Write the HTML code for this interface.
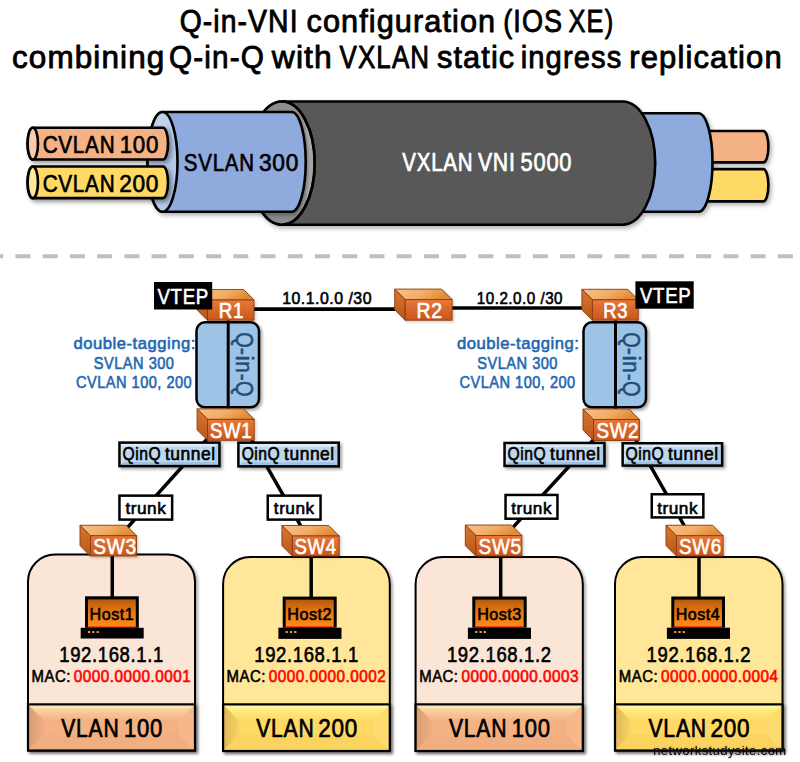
<!DOCTYPE html>
<html><head><meta charset="utf-8"><style>
html,body{margin:0;padding:0;background:#fff;}
svg{display:block;}
text{font-family:"Liberation Sans", sans-serif;}
</style></head><body>
<svg width="800" height="762" viewBox="0 0 800 762">
<defs>
<filter id="sh1" x="-20%" y="-20%" width="150%" height="150%"><feDropShadow dx="2" dy="2" stdDeviation="1.8" flood-color="#000" flood-opacity="0.35"/></filter>
<filter id="sh3" x="-20%" y="-20%" width="150%" height="150%"><feDropShadow dx="1.5" dy="1.5" stdDeviation="1.2" flood-color="#000" flood-opacity="0.2"/></filter>
<filter id="glow" x="-10%" y="-50%" width="120%" height="200%"><feGaussianBlur in="SourceAlpha" stdDeviation="1.2" result="b"/><feFlood flood-color="#333" flood-opacity="0.45"/><feComposite in2="b" operator="in" result="g"/><feMerge><feMergeNode in="g"/><feMergeNode in="SourceGraphic"/></feMerge></filter>
<filter id="sh4" x="-20%" y="-20%" width="150%" height="150%"><feDropShadow dx="2.5" dy="2.5" stdDeviation="2" flood-color="#000" flood-opacity="0.4"/></filter>
<filter id="sh2" x="-20%" y="-20%" width="150%" height="150%"><feDropShadow dx="2" dy="2.5" stdDeviation="2" flood-color="#000" flood-opacity="0.3"/></filter>
<linearGradient id="gTop" x1="0" y1="0" x2="1" y2="0.3"><stop offset="0" stop-color="#F7C08A"/><stop offset="0.55" stop-color="#F2AE68"/><stop offset="1" stop-color="#E08A34"/></linearGradient>
<linearGradient id="gLeft" x1="0" y1="0" x2="0" y2="1"><stop offset="0" stop-color="#D8782E"/><stop offset="1" stop-color="#B9561A"/></linearGradient>
<linearGradient id="gFront" x1="0" y1="0" x2="0" y2="1"><stop offset="0" stop-color="#E8783A"/><stop offset="1" stop-color="#C9561C"/></linearGradient>
<linearGradient id="gScr" x1="0" y1="0" x2="0" y2="1"><stop offset="0" stop-color="#B85A0C"/><stop offset="0.45" stop-color="#E87810"/><stop offset="1" stop-color="#FF8A18"/></linearGradient>
<linearGradient id="gBTo" x1="0" y1="0" x2="0" y2="1"><stop offset="0" stop-color="#FFF6D0"/><stop offset="0.35" stop-color="#FAD0A0"/><stop offset="1" stop-color="#F4B183"/></linearGradient>
<linearGradient id="gBTy" x1="0" y1="0" x2="0" y2="1"><stop offset="0" stop-color="#FFFFA8"/><stop offset="0.35" stop-color="#FFEC80"/><stop offset="1" stop-color="#FFD966"/></linearGradient>
<linearGradient id="gBLo" x1="0" y1="0" x2="1" y2="0"><stop offset="0" stop-color="#D89C74"/><stop offset="1" stop-color="#EDAE82"/></linearGradient>
<linearGradient id="gBLy" x1="0" y1="0" x2="1" y2="0"><stop offset="0" stop-color="#DEB858"/><stop offset="1" stop-color="#F8D464"/></linearGradient>
<linearGradient id="gFace" x1="0" y1="0" x2="1" y2="0"><stop offset="0" stop-color="#8C8C8C"/><stop offset="0.7" stop-color="#8E8E8E"/><stop offset="0.92" stop-color="#B5B5B5"/><stop offset="1" stop-color="#9A9A9A"/></linearGradient>
<linearGradient id="gSF" x1="0" y1="0" x2="1" y2="1"><stop offset="0" stop-color="#C9D6EE"/><stop offset="1" stop-color="#AFC2E6"/></linearGradient>
</defs>
<rect width="800" height="762" fill="#fff"/>
<text transform="translate(179.67,32.30) scale(0.9103,1)" font-size="31.14" fill="#000" stroke="#000" stroke-width="0.87" stroke-linejoin="round" letter-spacing="1.197" >Q-in-VNI</text>
<text transform="translate(306.54,32.30) scale(0.9847,1)" font-size="31.14" fill="#000" stroke="#000" stroke-width="0.87" stroke-linejoin="round" letter-spacing="1.107" >configuration</text>
<text transform="translate(503.23,32.30) scale(0.8690,1)" font-size="31.14" fill="#000" stroke="#000" stroke-width="0.87" stroke-linejoin="round" letter-spacing="1.254" >(IOS</text>
<text transform="translate(568.60,32.30) scale(0.8154,1)" font-size="31.14" fill="#000" stroke="#000" stroke-width="0.87" stroke-linejoin="round" letter-spacing="1.337" >XE)</text>
<text transform="translate(12.02,67.80) scale(0.9871,1)" font-size="31.86" fill="#000" stroke="#000" stroke-width="0.89" stroke-linejoin="round" letter-spacing="1.130" >combining</text>
<text transform="translate(169.11,67.80) scale(0.9324,1)" font-size="31.86" fill="#000" stroke="#000" stroke-width="0.89" stroke-linejoin="round" letter-spacing="1.196" >Q-in-Q</text>
<text transform="translate(271.75,67.80) scale(1.0008,1)" font-size="31.86" fill="#000" stroke="#000" stroke-width="0.89" stroke-linejoin="round" letter-spacing="1.114" >with</text>
<text transform="translate(339.50,67.80) scale(0.8151,1)" font-size="31.86" fill="#000" stroke="#000" stroke-width="0.89" stroke-linejoin="round" letter-spacing="1.368" >VXLAN</text>
<text transform="translate(437.02,67.80) scale(0.9634,1)" font-size="31.86" fill="#000" stroke="#000" stroke-width="0.89" stroke-linejoin="round" letter-spacing="1.157" >static</text>
<text transform="translate(520.68,67.80) scale(0.9158,1)" font-size="31.86" fill="#000" stroke="#000" stroke-width="0.89" stroke-linejoin="round" letter-spacing="1.218" >ingress</text>
<text transform="translate(629.31,67.80) scale(0.9729,1)" font-size="31.86" fill="#000" stroke="#000" stroke-width="0.89" stroke-linejoin="round" letter-spacing="1.146" >replication</text>
<g filter="url(#sh2)">
<path d="M700,131.0 L763.4,131.0 A5,15.700000000000003 0 0 1 763.4,162.4 L700,162.4 A5,15.700000000000003 0 0 1 700,131.0 Z" fill="#F4B183" stroke="#000" stroke-width="2.6" stroke-linejoin="round"/>
<path d="M700,169.1 L763.4,169.1 A5,16.150000000000006 0 0 1 763.4,201.4 L700,201.4 A5,16.150000000000006 0 0 1 700,169.1 Z" fill="#FFD966" stroke="#000" stroke-width="2.6" stroke-linejoin="round"/>
<path d="M600,113.3 L698.5,113.3 A14,49.199999999999996 0 0 1 698.5,211.7 L600,211.7 A14,49.199999999999996 0 0 1 600,113.3 Z" fill="#8FAADC" stroke="#000" stroke-width="2.6" stroke-linejoin="round"/>
<path d="M282,101.5 L622.5,101.5 A32.7,61.599999999999994 0 0 1 622.5,224.7 L282,224.7 A32.7,61.599999999999994 0 0 1 282,101.5 Z" fill="#595959" stroke="#000" stroke-width="2.6" stroke-linejoin="round"/><ellipse cx="282" cy="163.1" rx="32.7" ry="61.599999999999994" fill="url(#gFace)" stroke="#000" stroke-width="2.6"/>
</g>
<path d="M282,101.5 A32.7,61.6 0 0 1 282,224.7" fill="none" stroke="#000" stroke-width="2.6"/>
<g filter="url(#sh2)">
<path d="M162.5,112.0 L291.7,112.0 A14,49.900000000000006 0 0 1 291.7,211.8 L162.5,211.8 A15,49.900000000000006 0 0 1 162.5,112.0 Z" fill="#8FAADC" stroke="#000" stroke-width="2.6" stroke-linejoin="round"/><ellipse cx="162.5" cy="161.9" rx="15" ry="49.900000000000006" fill="url(#gSF)" stroke="#000" stroke-width="2.6"/>
</g><g filter="url(#sh4)">
<path d="M32.8,127.8 L163.0,127.8 A5,15.850000000000001 0 0 1 163.0,159.5 L32.8,159.5 A5.2,15.850000000000001 0 0 1 32.8,127.8 Z" fill="#F4B183" stroke="#000" stroke-width="2.6" stroke-linejoin="round"/><ellipse cx="32.8" cy="143.65" rx="5.2" ry="15.850000000000001" fill="#F8CBAD" stroke="#000" stroke-width="2.6"/>
<path d="M32.8,166.5 L163.0,166.5 A5,15.799999999999997 0 0 1 163.0,198.1 L32.8,198.1 A5.2,15.799999999999997 0 0 1 32.8,166.5 Z" fill="#FFD966" stroke="#000" stroke-width="2.6" stroke-linejoin="round"/><ellipse cx="32.8" cy="182.3" rx="5.2" ry="15.799999999999997" fill="#FFE699" stroke="#000" stroke-width="2.6"/>
</g>
<text transform="translate(42.63,153.00) scale(0.8526,1)" font-size="24.29" fill="#000" stroke="#000" stroke-width="0.68" stroke-linejoin="round" letter-spacing="0.855" >CVLAN</text>
<text transform="translate(119.70,153.00) scale(0.9205,1)" font-size="24.29" fill="#000" stroke="#000" stroke-width="0.68" stroke-linejoin="round" letter-spacing="0.792" >100</text>
<text transform="translate(42.63,192.00) scale(0.8526,1)" font-size="24.29" fill="#000" stroke="#000" stroke-width="0.68" stroke-linejoin="round" letter-spacing="0.855" >CVLAN</text>
<text transform="translate(119.14,192.00) scale(0.9347,1)" font-size="24.29" fill="#000" stroke="#000" stroke-width="0.68" stroke-linejoin="round" letter-spacing="0.780" >200</text>
<text transform="translate(183.86,170.50) scale(0.8543,1)" font-size="24.00" fill="#000" stroke="#000" stroke-width="0.67" stroke-linejoin="round" letter-spacing="0.843" >SVLAN</text>
<text transform="translate(258.99,170.50) scale(0.9474,1)" font-size="24.00" fill="#000" stroke="#000" stroke-width="0.67" stroke-linejoin="round" letter-spacing="0.760" >300</text>
<text transform="translate(402.30,170.60) scale(0.7921,1)" font-size="25.86" fill="#fff" stroke="#fff" stroke-width="0.72" stroke-linejoin="round" letter-spacing="0.979" >VXLAN</text>
<text transform="translate(477.90,170.60) scale(0.8205,1)" font-size="25.86" fill="#fff" stroke="#fff" stroke-width="0.72" stroke-linejoin="round" letter-spacing="0.945" >VNI</text>
<text transform="translate(520.52,170.60) scale(0.8467,1)" font-size="25.86" fill="#fff" stroke="#fff" stroke-width="0.72" stroke-linejoin="round" letter-spacing="0.916" >5000</text>
<line x1="-11.78" y1="256.2" x2="810" y2="256.2" stroke="#BFBFBF" stroke-width="4" stroke-dasharray="15 12.23"/>
<path d="M28,750.5 L28,581.6 A27,27 0 0 1 55,554.6 L168,554.6 A27,27 0 0 1 195,581.6 L195,750.5 Z" fill="#FBE5D6" stroke="#000" stroke-width="2.0" filter="url(#sh1)"/>
<g filter="url(#sh1)">
<rect x="28" y="704.4" width="167" height="46.10000000000002" fill="#F4B183"/>
<polygon points="28,704.4 44,720.4 44,734.5 28,750.5" fill="url(#gBLo)"/>
<polygon points="195,704.4 179,720.4 179,734.5 195,750.5" fill="#F6B88A"/>
<polygon points="28,750.5 44,734.5 179,734.5 195,750.5" fill="#F1AE80"/>
<polygon points="28,704.4 44,720.4 179,720.4 195,704.4" fill="url(#gBTo)"/>
<rect x="28" y="704.4" width="167" height="46.10000000000002" fill="none" stroke="#000" stroke-width="2.2"/>
</g>
<path d="M223.1,751 L223.1,584 A27,27 0 0 1 250.1,557 L362.8,557 A27,27 0 0 1 389.8,584 L389.8,751 Z" fill="#FFE699" stroke="#000" stroke-width="2.0" filter="url(#sh1)"/>
<g filter="url(#sh1)">
<rect x="223.1" y="704.4" width="166.70000000000002" height="46.60000000000002" fill="#FFD966"/>
<polygon points="223.1,704.4 239.1,720.4 239.1,735 223.1,751" fill="url(#gBLy)"/>
<polygon points="389.8,704.4 373.8,720.4 373.8,735 389.8,751" fill="#FFDC70"/>
<polygon points="223.1,751 239.1,735 373.8,735 389.8,751" fill="#FBD460"/>
<polygon points="223.1,704.4 239.1,720.4 373.8,720.4 389.8,704.4" fill="url(#gBTy)"/>
<rect x="223.1" y="704.4" width="166.70000000000002" height="46.60000000000002" fill="none" stroke="#000" stroke-width="2.2"/>
</g>
<path d="M415.6,751 L415.6,584 A27,27 0 0 1 442.6,557 L555.8,557 A27,27 0 0 1 582.8,584 L582.8,751 Z" fill="#FBE5D6" stroke="#000" stroke-width="2.0" filter="url(#sh1)"/>
<g filter="url(#sh1)">
<rect x="415.6" y="704.4" width="167.19999999999993" height="46.60000000000002" fill="#F4B183"/>
<polygon points="415.6,704.4 431.6,720.4 431.6,735 415.6,751" fill="url(#gBLo)"/>
<polygon points="582.8,704.4 566.8,720.4 566.8,735 582.8,751" fill="#F6B88A"/>
<polygon points="415.6,751 431.6,735 566.8,735 582.8,751" fill="#F1AE80"/>
<polygon points="415.6,704.4 431.6,720.4 566.8,720.4 582.8,704.4" fill="url(#gBTo)"/>
<rect x="415.6" y="704.4" width="167.19999999999993" height="46.60000000000002" fill="none" stroke="#000" stroke-width="2.2"/>
</g>
<path d="M615,750.5 L615,584 A27,27 0 0 1 642,557 L755.5,557 A27,27 0 0 1 782.5,584 L782.5,750.5 Z" fill="#FFE699" stroke="#000" stroke-width="2.0" filter="url(#sh1)"/>
<g filter="url(#sh1)">
<rect x="615" y="704.4" width="167.5" height="46.10000000000002" fill="#FFD966"/>
<polygon points="615,704.4 631,720.4 631,734.5 615,750.5" fill="url(#gBLy)"/>
<polygon points="782.5,704.4 766.5,720.4 766.5,734.5 782.5,750.5" fill="#FFDC70"/>
<polygon points="615,750.5 631,734.5 766.5,734.5 782.5,750.5" fill="#FBD460"/>
<polygon points="615,704.4 631,720.4 766.5,720.4 782.5,704.4" fill="url(#gBTy)"/>
<rect x="615" y="704.4" width="167.5" height="46.10000000000002" fill="none" stroke="#000" stroke-width="2.2"/>
</g>
<line x1="250" y1="309.2" x2="420" y2="309.2" stroke="#000" stroke-width="3.7"/>
<line x1="420" y1="308.0" x2="596" y2="308.0" stroke="#000" stroke-width="3.5"/>
<line x1="215.24" y1="430" x2="116.24" y2="540" stroke="#000" stroke-width="3.5"/>
<line x1="246.07" y1="430" x2="308.77" y2="540" stroke="#000" stroke-width="3.5"/>
<line x1="602.55" y1="430" x2="501.35" y2="540" stroke="#000" stroke-width="3.5"/>
<line x1="630.15" y1="430" x2="692.30" y2="540" stroke="#000" stroke-width="3.5"/>
<line x1="112.25" y1="550" x2="112.25" y2="600" stroke="#000" stroke-width="3.5"/>
<line x1="311.2" y1="550" x2="311.2" y2="600" stroke="#000" stroke-width="3.5"/>
<line x1="500.7" y1="550" x2="500.7" y2="600" stroke="#000" stroke-width="3.5"/>
<line x1="699" y1="550" x2="699" y2="600" stroke="#000" stroke-width="3.5"/>
<text transform="translate(282.21,304.20) scale(0.9500,1)" font-size="16.71" fill="#000" stroke="#000" stroke-width="0.62" stroke-linejoin="round" letter-spacing="0.528" >10.1.0.0 /30</text>
<text transform="translate(476.75,304.20) scale(0.9097,1)" font-size="16.71" fill="#000" stroke="#000" stroke-width="0.62" stroke-linejoin="round" letter-spacing="0.551" >10.2.0.0 /30</text>
<rect x="196.5" y="322.3" width="62.5" height="85" rx="8.5" fill="#9DC3E6" stroke="#000" stroke-width="2.5" filter="url(#sh1)"/>
<line x1="228.2" y1="318" x2="228.2" y2="422" stroke="#000" stroke-width="3"/>
<rect x="583.5" y="322.3" width="62.5" height="85" rx="8.5" fill="#9DC3E6" stroke="#000" stroke-width="2.5" filter="url(#sh1)"/>
<line x1="615.5" y1="318" x2="615.5" y2="422" stroke="#000" stroke-width="3"/>
<g transform="translate(236,364.1) rotate(90)"><text transform="translate(-31.83,0.00) scale(0.8303,1)" font-size="24.00" fill="#1F4E79" stroke="#1F4E79" stroke-width="0.55" stroke-linejoin="round" letter-spacing="0.867" >Q</text>
<text transform="translate(-16.47,0.00) scale(0.8941,1)" font-size="24.00" fill="#1F4E79" stroke="#1F4E79" stroke-width="0.55" stroke-linejoin="round" letter-spacing="0.805" >-</text>
<text transform="translate(-8.90,0.00) scale(1.0667,1)" font-size="24.00" fill="#1F4E79" stroke="#1F4E79" stroke-width="0.55" stroke-linejoin="round" letter-spacing="0.675" >i</text>
<text transform="translate(-2.89,0.00) scale(0.8571,1)" font-size="24.00" fill="#1F4E79" stroke="#1F4E79" stroke-width="0.55" stroke-linejoin="round" letter-spacing="0.840" >n</text>
<text transform="translate(9.55,0.00) scale(0.8627,1)" font-size="24.00" fill="#1F4E79" stroke="#1F4E79" stroke-width="0.55" stroke-linejoin="round" letter-spacing="0.835" >-</text>
<text transform="translate(16.87,0.00) scale(0.8303,1)" font-size="24.00" fill="#1F4E79" stroke="#1F4E79" stroke-width="0.55" stroke-linejoin="round" letter-spacing="0.867" >Q</text></g>
<g transform="translate(623.2,364.1) rotate(90)"><text transform="translate(-31.83,0.00) scale(0.8303,1)" font-size="24.00" fill="#1F4E79" stroke="#1F4E79" stroke-width="0.55" stroke-linejoin="round" letter-spacing="0.867" >Q</text>
<text transform="translate(-16.47,0.00) scale(0.8941,1)" font-size="24.00" fill="#1F4E79" stroke="#1F4E79" stroke-width="0.55" stroke-linejoin="round" letter-spacing="0.805" >-</text>
<text transform="translate(-8.90,0.00) scale(1.0667,1)" font-size="24.00" fill="#1F4E79" stroke="#1F4E79" stroke-width="0.55" stroke-linejoin="round" letter-spacing="0.675" >i</text>
<text transform="translate(-2.89,0.00) scale(0.8571,1)" font-size="24.00" fill="#1F4E79" stroke="#1F4E79" stroke-width="0.55" stroke-linejoin="round" letter-spacing="0.840" >n</text>
<text transform="translate(9.55,0.00) scale(0.8627,1)" font-size="24.00" fill="#1F4E79" stroke="#1F4E79" stroke-width="0.55" stroke-linejoin="round" letter-spacing="0.835" >-</text>
<text transform="translate(16.87,0.00) scale(0.8303,1)" font-size="24.00" fill="#1F4E79" stroke="#1F4E79" stroke-width="0.55" stroke-linejoin="round" letter-spacing="0.867" >Q</text></g>
<g filter="url(#sh3)">
<polygon points="197.0,289.5 243.5,289.5 254,300 207.5,300" fill="url(#gTop)" stroke="#8a3c10" stroke-width="0.9" stroke-linejoin="round"/>
<polygon points="197.0,289.5 207.5,300 207.5,320.2 197.0,309.7" fill="url(#gLeft)" stroke="#8a3c10" stroke-width="0.9" stroke-linejoin="round"/>
<rect x="207.5" y="300" width="46.5" height="20.19999999999999" fill="url(#gFront)" stroke="#8a3c10" stroke-width="0.9"/>
</g>
<g filter="url(#sh3)">
<polygon points="394.7,289.1 441.6,289.1 452.1,299.6 405.2,299.6" fill="url(#gTop)" stroke="#8a3c10" stroke-width="0.9" stroke-linejoin="round"/>
<polygon points="394.7,289.1 405.2,299.6 405.2,320.2 394.7,309.7" fill="url(#gLeft)" stroke="#8a3c10" stroke-width="0.9" stroke-linejoin="round"/>
<rect x="405.2" y="299.6" width="46.900000000000034" height="20.599999999999966" fill="url(#gFront)" stroke="#8a3c10" stroke-width="0.9"/>
</g>
<g filter="url(#sh3)">
<polygon points="581.9,289.3 627.7,289.3 638.2,299.8 592.4,299.8" fill="url(#gTop)" stroke="#8a3c10" stroke-width="0.9" stroke-linejoin="round"/>
<polygon points="581.9,289.3 592.4,299.8 592.4,320.2 581.9,309.7" fill="url(#gLeft)" stroke="#8a3c10" stroke-width="0.9" stroke-linejoin="round"/>
<rect x="592.4" y="299.8" width="45.80000000000007" height="20.399999999999977" fill="url(#gFront)" stroke="#8a3c10" stroke-width="0.9"/>
</g>
<rect x="154" y="282" width="58.2" height="27.5" fill="#000"/>
<text transform="translate(157.50,304.00) scale(0.8437,1)" font-size="22.14" fill="#fff" stroke="#fff" stroke-width="0.62" stroke-linejoin="round" letter-spacing="0.787" >VTEP</text>
<rect x="635.4" y="281.3" width="58.3" height="27.4" fill="#000"/>
<text transform="translate(640.00,303.00) scale(0.8270,1)" font-size="22.57" fill="#fff" stroke="#fff" stroke-width="0.63" stroke-linejoin="round" letter-spacing="0.819" >VTEP</text>
<text transform="translate(218.78,318.40) scale(0.8736,1)" font-size="21.57" fill="#fff" stroke="#fff" stroke-width="0.62" stroke-linejoin="round" letter-spacing="0.741" >R1</text>
<text transform="translate(416.48,318.40) scale(0.8854,1)" font-size="22.00" fill="#fff" stroke="#fff" stroke-width="0.62" stroke-linejoin="round" letter-spacing="0.745" >R2</text>
<text transform="translate(603.22,318.20) scale(0.8345,1)" font-size="22.00" fill="#fff" stroke="#fff" stroke-width="0.62" stroke-linejoin="round" letter-spacing="0.791" >R3</text>
<text transform="translate(73.53,348.80) scale(1.0118,1)" font-size="16.49" fill="#1F68B2" stroke="#1F68B2" stroke-width="0.60" stroke-linejoin="round" letter-spacing="0.489" >double-tagging:</text>
<text transform="translate(93.84,368.60) scale(0.9050,1)" font-size="16.14" fill="#1F68B2" stroke="#1F68B2" stroke-width="0.60" stroke-linejoin="round" letter-spacing="0.535" >SVLAN 300</text>
<text transform="translate(75.92,387.60) scale(0.8959,1)" font-size="16.29" fill="#1F68B2" stroke="#1F68B2" stroke-width="0.60" stroke-linejoin="round" letter-spacing="0.545" >CVLAN 100, 200</text>
<text transform="translate(457.03,348.80) scale(1.0118,1)" font-size="16.49" fill="#1F68B2" stroke="#1F68B2" stroke-width="0.60" stroke-linejoin="round" letter-spacing="0.489" >double-tagging:</text>
<text transform="translate(477.34,368.60) scale(0.9050,1)" font-size="16.14" fill="#1F68B2" stroke="#1F68B2" stroke-width="0.60" stroke-linejoin="round" letter-spacing="0.535" >SVLAN 300</text>
<text transform="translate(459.42,387.60) scale(0.8959,1)" font-size="16.29" fill="#1F68B2" stroke="#1F68B2" stroke-width="0.60" stroke-linejoin="round" letter-spacing="0.545" >CVLAN 100, 200</text>
<g filter="url(#sh3)">
<polygon points="197.1,408.85 243.7,408.85 254.2,419.35 207.6,419.35" fill="url(#gTop)" stroke="#8a3c10" stroke-width="0.9" stroke-linejoin="round"/>
<polygon points="197.1,408.85 207.6,419.35 207.6,440.3 197.1,429.8" fill="url(#gLeft)" stroke="#8a3c10" stroke-width="0.9" stroke-linejoin="round"/>
<rect x="207.6" y="419.35" width="46.599999999999994" height="20.94999999999999" fill="url(#gFront)" stroke="#8a3c10" stroke-width="0.9"/>
</g>
<text transform="translate(210.02,438.30) scale(0.8535,1)" font-size="21.86" fill="#fff" stroke="#fff" stroke-width="0.62" stroke-linejoin="round" letter-spacing="0.768" >SW1</text>
<g filter="url(#sh3)">
<polygon points="583.0,409.0 628.9,409.0 639.4,419.5 593.5,419.5" fill="url(#gTop)" stroke="#8a3c10" stroke-width="0.9" stroke-linejoin="round"/>
<polygon points="583.0,409.0 593.5,419.5 593.5,440.5 583.0,430.0" fill="url(#gLeft)" stroke="#8a3c10" stroke-width="0.9" stroke-linejoin="round"/>
<rect x="593.5" y="419.5" width="45.89999999999998" height="21.0" fill="url(#gFront)" stroke="#8a3c10" stroke-width="0.9"/>
</g>
<text transform="translate(596.41,438.40) scale(0.8396,1)" font-size="22.43" fill="#fff" stroke="#fff" stroke-width="0.63" stroke-linejoin="round" letter-spacing="0.801" >SW2</text>
<g filter="url(#sh3)">
<polygon points="80.0,525.25 126.0,525.25 136.5,535.75 90.5,535.75" fill="url(#gTop)" stroke="#8a3c10" stroke-width="0.9" stroke-linejoin="round"/>
<polygon points="80.0,525.25 90.5,535.75 90.5,556 80.0,545.5" fill="url(#gLeft)" stroke="#8a3c10" stroke-width="0.9" stroke-linejoin="round"/>
<rect x="90.5" y="535.75" width="46.0" height="20.25" fill="url(#gFront)" stroke="#8a3c10" stroke-width="0.9"/>
</g>
<text transform="translate(93.20,553.70) scale(0.8680,1)" font-size="22.14" fill="#fff" stroke="#fff" stroke-width="0.62" stroke-linejoin="round" letter-spacing="0.765" >SW3</text>
<g filter="url(#sh3)">
<polygon points="281.9,525.5 328.7,525.5 339.2,536 292.4,536" fill="url(#gTop)" stroke="#8a3c10" stroke-width="0.9" stroke-linejoin="round"/>
<polygon points="281.9,525.5 292.4,536 292.4,556 281.9,545.5" fill="url(#gLeft)" stroke="#8a3c10" stroke-width="0.9" stroke-linejoin="round"/>
<rect x="292.4" y="536" width="46.80000000000001" height="20" fill="url(#gFront)" stroke="#8a3c10" stroke-width="0.9"/>
</g>
<text transform="translate(294.52,553.70) scale(0.8423,1)" font-size="22.14" fill="#fff" stroke="#fff" stroke-width="0.62" stroke-linejoin="round" letter-spacing="0.789" >SW4</text>
<g filter="url(#sh3)">
<polygon points="465.3,525.0 511.4,525.0 521.9,535.5 475.8,535.5" fill="url(#gTop)" stroke="#8a3c10" stroke-width="0.9" stroke-linejoin="round"/>
<polygon points="465.3,525.0 475.8,535.5 475.8,556 465.3,545.5" fill="url(#gLeft)" stroke="#8a3c10" stroke-width="0.9" stroke-linejoin="round"/>
<rect x="475.8" y="535.5" width="46.099999999999966" height="20.5" fill="url(#gFront)" stroke="#8a3c10" stroke-width="0.9"/>
</g>
<text transform="translate(478.61,553.70) scale(0.8594,1)" font-size="22.14" fill="#fff" stroke="#fff" stroke-width="0.62" stroke-linejoin="round" letter-spacing="0.773" >SW5</text>
<g filter="url(#sh3)">
<polygon points="666.0,525.25 712.6,525.25 723.1,535.75 676.5,535.75" fill="url(#gTop)" stroke="#8a3c10" stroke-width="0.9" stroke-linejoin="round"/>
<polygon points="666.0,525.25 676.5,535.75 676.5,556 666.0,545.5" fill="url(#gLeft)" stroke="#8a3c10" stroke-width="0.9" stroke-linejoin="round"/>
<rect x="676.5" y="535.75" width="46.60000000000002" height="20.25" fill="url(#gFront)" stroke="#8a3c10" stroke-width="0.9"/>
</g>
<text transform="translate(679.11,553.70) scale(0.8486,1)" font-size="22.14" fill="#fff" stroke="#fff" stroke-width="0.62" stroke-linejoin="round" letter-spacing="0.783" >SW6</text>
<g filter="url(#sh1)">
<rect x="119.45" y="442.6" width="99.99999999999999" height="23.5" fill="#BDD7EE"/>
<polygon points="119.45,442.6 219.45,442.6 215.45,446.6 123.45,446.6" fill="#DEEBF7"/>
<polygon points="119.45,442.6 123.45,446.6 123.45,462.1 119.45,466.1" fill="#DEEBF7" opacity="0.6"/>
<polygon points="119.45,466.1 219.45,466.1 215.45,462.1 123.45,462.1" fill="#9DC3E6"/>
<polygon points="219.45,442.6 219.45,466.1 215.45,462.1 215.45,446.6" fill="#9DC3E6" opacity="0.6"/>
<rect x="119.45" y="442.6" width="99.99999999999999" height="23.5" fill="none" stroke="#000" stroke-width="2.5"/>
</g>
<text transform="translate(122.52,460.00) scale(0.8845,1)" font-size="17.71" fill="#000" stroke="#000" stroke-width="0.62" stroke-linejoin="round" letter-spacing="0.601" >QinQ</text>
<text transform="translate(165.00,460.00) scale(0.9840,1)" font-size="17.71" fill="#000" stroke="#000" stroke-width="0.62" stroke-linejoin="round" letter-spacing="0.540" >tunnel</text>
<g filter="url(#sh1)">
<rect x="238.4" y="442.65" width="100.35" height="23.700000000000045" fill="#BDD7EE"/>
<polygon points="238.4,442.65 338.75,442.65 334.75,446.65 242.4,446.65" fill="#DEEBF7"/>
<polygon points="238.4,442.65 242.4,446.65 242.4,462.35 238.4,466.35" fill="#DEEBF7" opacity="0.6"/>
<polygon points="238.4,466.35 338.75,466.35 334.75,462.35 242.4,462.35" fill="#9DC3E6"/>
<polygon points="338.75,442.65 338.75,466.35 334.75,462.35 334.75,446.65" fill="#9DC3E6" opacity="0.6"/>
<rect x="238.4" y="442.65" width="100.35" height="23.700000000000045" fill="none" stroke="#000" stroke-width="2.5"/>
</g>
<text transform="translate(241.64,460.00) scale(0.8845,1)" font-size="17.71" fill="#000" stroke="#000" stroke-width="0.62" stroke-linejoin="round" letter-spacing="0.601" >QinQ</text>
<text transform="translate(284.12,460.00) scale(0.9840,1)" font-size="17.71" fill="#000" stroke="#000" stroke-width="0.62" stroke-linejoin="round" letter-spacing="0.540" >tunnel</text>
<g filter="url(#sh1)">
<rect x="504.55" y="442.95" width="99.90000000000003" height="23.0" fill="#BDD7EE"/>
<polygon points="504.55,442.95 604.45,442.95 600.45,446.95 508.55,446.95" fill="#DEEBF7"/>
<polygon points="504.55,442.95 508.55,446.95 508.55,461.95 504.55,465.95" fill="#DEEBF7" opacity="0.6"/>
<polygon points="504.55,465.95 604.45,465.95 600.45,461.95 508.55,461.95" fill="#9DC3E6"/>
<polygon points="604.45,442.95 604.45,465.95 600.45,461.95 600.45,446.95" fill="#9DC3E6" opacity="0.6"/>
<rect x="504.55" y="442.95" width="99.90000000000003" height="23.0" fill="none" stroke="#000" stroke-width="2.5"/>
</g>
<text transform="translate(507.57,460.00) scale(0.8845,1)" font-size="17.71" fill="#000" stroke="#000" stroke-width="0.62" stroke-linejoin="round" letter-spacing="0.601" >QinQ</text>
<text transform="translate(550.05,460.00) scale(0.9840,1)" font-size="17.71" fill="#000" stroke="#000" stroke-width="0.62" stroke-linejoin="round" letter-spacing="0.540" >tunnel</text>
<g filter="url(#sh1)">
<rect x="622.65" y="443.25" width="99.5" height="22.350000000000023" fill="#BDD7EE"/>
<polygon points="622.65,443.25 722.15,443.25 718.15,447.25 626.65,447.25" fill="#DEEBF7"/>
<polygon points="622.65,443.25 626.65,447.25 626.65,461.6 622.65,465.6" fill="#DEEBF7" opacity="0.6"/>
<polygon points="622.65,465.6 722.15,465.6 718.15,461.6 626.65,461.6" fill="#9DC3E6"/>
<polygon points="722.15,443.25 722.15,465.6 718.15,461.6 718.15,447.25" fill="#9DC3E6" opacity="0.6"/>
<rect x="622.65" y="443.25" width="99.5" height="22.350000000000023" fill="none" stroke="#000" stroke-width="2.5"/>
</g>
<text transform="translate(625.47,460.00) scale(0.8845,1)" font-size="17.71" fill="#000" stroke="#000" stroke-width="0.62" stroke-linejoin="round" letter-spacing="0.601" >QinQ</text>
<text transform="translate(667.95,460.00) scale(0.9840,1)" font-size="17.71" fill="#000" stroke="#000" stroke-width="0.62" stroke-linejoin="round" letter-spacing="0.540" >tunnel</text>
<rect x="119.45" y="495.65" width="52.7" height="23.950000000000045" fill="#fff" stroke="#000" stroke-width="2.5"/>
<text transform="translate(125.50,514.30) scale(1.0374,1)" font-size="16.62" fill="#000" stroke="#000" stroke-width="0.62" stroke-linejoin="round" letter-spacing="0.481" >trunk</text>
<rect x="267.75" y="495.65" width="52.80000000000001" height="23.950000000000045" fill="#fff" stroke="#000" stroke-width="2.5"/>
<text transform="translate(273.85,514.30) scale(1.0374,1)" font-size="16.62" fill="#000" stroke="#000" stroke-width="0.62" stroke-linejoin="round" letter-spacing="0.481" >trunk</text>
<rect x="505.55" y="494.95" width="51.900000000000034" height="23.750000000000057" fill="#fff" stroke="#000" stroke-width="2.5"/>
<text transform="translate(511.20,514.30) scale(1.0374,1)" font-size="16.62" fill="#000" stroke="#000" stroke-width="0.62" stroke-linejoin="round" letter-spacing="0.481" >trunk</text>
<rect x="651.75" y="494.25" width="51.60000000000002" height="23.149999999999977" fill="#fff" stroke="#000" stroke-width="2.5"/>
<text transform="translate(657.25,514.30) scale(1.0374,1)" font-size="16.62" fill="#000" stroke="#000" stroke-width="0.62" stroke-linejoin="round" letter-spacing="0.481" >trunk</text>
<rect x="85" y="596.3" width="53.80000000000001" height="31.5" fill="#000"/>
<rect x="88" y="599.4" width="47.80000000000001" height="27.9" fill="url(#gScr)"/>
<rect x="88" y="626.5999999999999" width="47.80000000000001" height="1" fill="#D00000"/>
<rect x="80.7" y="627.8" width="62.999999999999986" height="10.700000000000045" fill="#000"/>
<rect x="87.90" y="631.0999999999999" width="2.3" height="2.0" rx="0.6" fill="#F7A030"/>
<rect x="92.20" y="631.0999999999999" width="2.3" height="2.0" rx="0.6" fill="#F7A030"/>
<rect x="96.50" y="631.0999999999999" width="2.3" height="2.0" rx="0.6" fill="#F7A030"/>
<text transform="translate(89.54,619.60) scale(0.9820,1)" font-size="16.43" fill="#000" stroke="#000" stroke-width="0.62" stroke-linejoin="round" letter-spacing="0.502" >Host1</text>
<text transform="translate(59.24,661.90) scale(0.8629,1)" font-size="21.43" fill="#000" stroke="#000" stroke-width="0.62" stroke-linejoin="round" letter-spacing="0.745" >192.168.1.1</text>
<text transform="translate(31.54,681.90) scale(0.8996,1)" font-size="16.57" fill="#000" stroke="#000" stroke-width="0.62" stroke-linejoin="round" letter-spacing="0.553" >MAC:</text>
<text transform="translate(73.82,681.90) scale(0.9235,1)" font-size="16.57" fill="#FF0000" stroke="#FF0000" stroke-width="0.62" stroke-linejoin="round" letter-spacing="0.538" >0000.0000.0001</text>
<text transform="translate(61.20,736.80) scale(0.8315,1)" font-size="25.43" fill="#000" stroke="#000" stroke-width="0.71" stroke-linejoin="round" letter-spacing="0.917" >VLAN</text>
<text transform="translate(124.02,736.80) scale(0.8674,1)" font-size="25.43" fill="#000" stroke="#000" stroke-width="0.71" stroke-linejoin="round" letter-spacing="0.879" >100</text>
<rect x="282.7" y="596.6" width="54.0" height="31.100000000000023" fill="#000"/>
<rect x="285.7" y="599.7" width="48.0" height="27.50000000000002" fill="url(#gScr)"/>
<rect x="285.7" y="626.5" width="48.0" height="1" fill="#D00000"/>
<rect x="278.4" y="627.7" width="63.10000000000002" height="11.199999999999932" fill="#000"/>
<rect x="285.60" y="631.0" width="2.3" height="2.0" rx="0.6" fill="#F7A030"/>
<rect x="289.90" y="631.0" width="2.3" height="2.0" rx="0.6" fill="#F7A030"/>
<rect x="294.20" y="631.0" width="2.3" height="2.0" rx="0.6" fill="#F7A030"/>
<text transform="translate(287.34,619.90) scale(0.9820,1)" font-size="16.43" fill="#000" stroke="#000" stroke-width="0.62" stroke-linejoin="round" letter-spacing="0.502" >Host2</text>
<text transform="translate(254.24,661.90) scale(0.8629,1)" font-size="21.43" fill="#000" stroke="#000" stroke-width="0.62" stroke-linejoin="round" letter-spacing="0.745" >192.168.1.1</text>
<text transform="translate(226.54,681.90) scale(0.8996,1)" font-size="16.57" fill="#000" stroke="#000" stroke-width="0.62" stroke-linejoin="round" letter-spacing="0.553" >MAC:</text>
<text transform="translate(268.82,681.90) scale(0.9235,1)" font-size="16.57" fill="#FF0000" stroke="#FF0000" stroke-width="0.62" stroke-linejoin="round" letter-spacing="0.538" >0000.0000.0002</text>
<text transform="translate(256.20,736.80) scale(0.8315,1)" font-size="25.43" fill="#000" stroke="#000" stroke-width="0.71" stroke-linejoin="round" letter-spacing="0.917" >VLAN</text>
<text transform="translate(318.24,736.80) scale(0.8860,1)" font-size="25.43" fill="#000" stroke="#000" stroke-width="0.71" stroke-linejoin="round" letter-spacing="0.861" >200</text>
<rect x="472.3" y="596.5" width="54.400000000000034" height="31.200000000000045" fill="#000"/>
<rect x="475.3" y="599.6" width="48.400000000000034" height="27.600000000000044" fill="url(#gScr)"/>
<rect x="475.3" y="626.5" width="48.400000000000034" height="1" fill="#D00000"/>
<rect x="467.9" y="627.7" width="63.10000000000002" height="11.199999999999932" fill="#000"/>
<rect x="475.10" y="631.0" width="2.3" height="2.0" rx="0.6" fill="#F7A030"/>
<rect x="479.40" y="631.0" width="2.3" height="2.0" rx="0.6" fill="#F7A030"/>
<rect x="483.70" y="631.0" width="2.3" height="2.0" rx="0.6" fill="#F7A030"/>
<text transform="translate(477.14,619.80) scale(0.9820,1)" font-size="16.43" fill="#000" stroke="#000" stroke-width="0.62" stroke-linejoin="round" letter-spacing="0.502" >Host3</text>
<text transform="translate(446.94,661.90) scale(0.8629,1)" font-size="21.43" fill="#000" stroke="#000" stroke-width="0.62" stroke-linejoin="round" letter-spacing="0.745" >192.168.1.2</text>
<text transform="translate(419.24,681.90) scale(0.8996,1)" font-size="16.57" fill="#000" stroke="#000" stroke-width="0.62" stroke-linejoin="round" letter-spacing="0.553" >MAC:</text>
<text transform="translate(461.52,681.90) scale(0.9235,1)" font-size="16.57" fill="#FF0000" stroke="#FF0000" stroke-width="0.62" stroke-linejoin="round" letter-spacing="0.538" >0000.0000.0003</text>
<text transform="translate(448.90,736.80) scale(0.8315,1)" font-size="25.43" fill="#000" stroke="#000" stroke-width="0.71" stroke-linejoin="round" letter-spacing="0.917" >VLAN</text>
<text transform="translate(511.72,736.80) scale(0.8674,1)" font-size="25.43" fill="#000" stroke="#000" stroke-width="0.71" stroke-linejoin="round" letter-spacing="0.879" >100</text>
<rect x="671.3" y="596.5" width="53.700000000000045" height="31.200000000000045" fill="#000"/>
<rect x="674.3" y="599.6" width="47.700000000000045" height="27.600000000000044" fill="url(#gScr)"/>
<rect x="674.3" y="626.5" width="47.700000000000045" height="1" fill="#D00000"/>
<rect x="666.9" y="627.7" width="63.10000000000002" height="11.199999999999932" fill="#000"/>
<rect x="674.10" y="631.0" width="2.3" height="2.0" rx="0.6" fill="#F7A030"/>
<rect x="678.40" y="631.0" width="2.3" height="2.0" rx="0.6" fill="#F7A030"/>
<rect x="682.70" y="631.0" width="2.3" height="2.0" rx="0.6" fill="#F7A030"/>
<text transform="translate(675.80,619.80) scale(0.9759,1)" font-size="16.43" fill="#000" stroke="#000" stroke-width="0.62" stroke-linejoin="round" letter-spacing="0.505" >Host4</text>
<text transform="translate(646.54,661.90) scale(0.8629,1)" font-size="21.43" fill="#000" stroke="#000" stroke-width="0.62" stroke-linejoin="round" letter-spacing="0.745" >192.168.1.2</text>
<text transform="translate(618.84,681.90) scale(0.8996,1)" font-size="16.57" fill="#000" stroke="#000" stroke-width="0.62" stroke-linejoin="round" letter-spacing="0.553" >MAC:</text>
<text transform="translate(661.12,681.90) scale(0.9215,1)" font-size="16.57" fill="#FF0000" stroke="#FF0000" stroke-width="0.62" stroke-linejoin="round" letter-spacing="0.540" >0000.0000.0004</text>
<text transform="translate(648.50,736.80) scale(0.8315,1)" font-size="25.43" fill="#000" stroke="#000" stroke-width="0.71" stroke-linejoin="round" letter-spacing="0.917" >VLAN</text>
<text transform="translate(710.54,736.80) scale(0.8860,1)" font-size="25.43" fill="#000" stroke="#000" stroke-width="0.71" stroke-linejoin="round" letter-spacing="0.861" >200</text>
<g filter="url(#glow)"><text transform="translate(653.18,755.30) scale(0.9967,1)" font-size="13.11" fill="#000" letter-spacing="0.395" >networkstudysite.com</text></g>
</svg></body></html>
